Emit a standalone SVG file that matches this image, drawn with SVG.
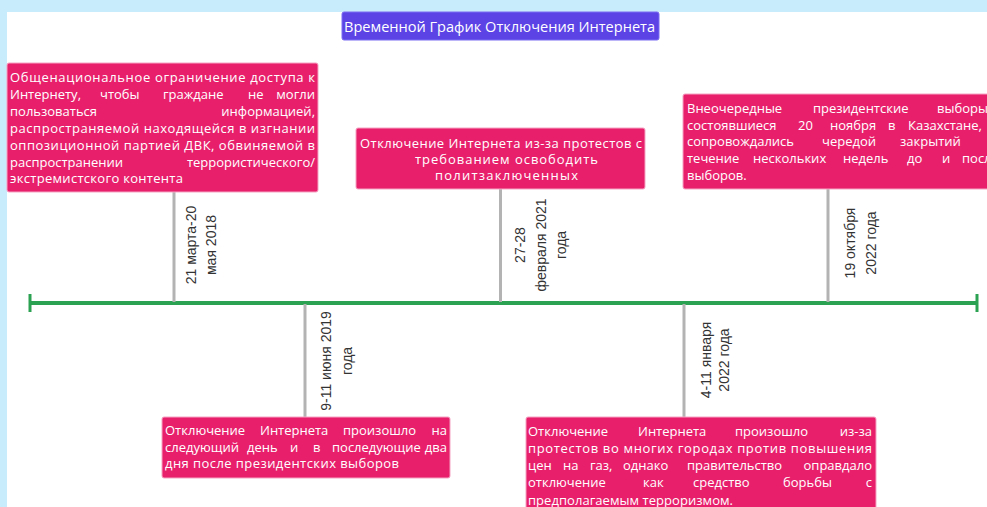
<svg xmlns="http://www.w3.org/2000/svg" width="987" height="507" viewBox="0 0 987 507">
<defs>
<style>
.bg{fill:#c9ecfc}
.panel{fill:#ffffff}
.box{fill:#e8206c;stroke:#f5a3c3;stroke-width:1}
.title{fill:#5b43e6;stroke:#7b6cf0;stroke-width:1}
.t{font-family:"Open Sans","Noto Sans",sans-serif;font-size:13px;fill:#ffffff}
.tt{font-family:"Open Sans","Noto Sans",sans-serif;font-size:15px;fill:#ffffff}
.d{font-family:"Liberation Sans",Arial,sans-serif;font-size:14px;fill:#333333;text-anchor:middle}
.c{stroke:#b3b3b3;stroke-width:3;fill:none}
.tl{stroke:#2ba152;stroke-width:4;fill:none}
.cap{stroke:#2ba152;stroke-width:3;fill:none}
.e{text-anchor:end}
</style>
</defs>
<rect class="bg" x="0" y="0" width="987" height="507"/>
<rect class="panel" x="7" y="12" width="980" height="495"/>

<g id="connectors">
<line class="tl" x1="30" y1="303" x2="977" y2="303"/>
<line class="cap" x1="30" y1="294" x2="30" y2="312"/>
<line class="cap" x1="977" y1="294" x2="977" y2="312"/>
<line class="c" x1="174" y1="192" x2="174" y2="302"/>
<line class="c" x1="500.5" y1="189" x2="500.5" y2="302"/>
<line class="c" x1="828" y1="189" x2="828" y2="302"/>
<line class="c" x1="305" y1="304" x2="305" y2="417"/>
<line class="c" x1="684" y1="304" x2="684" y2="417"/>
<text class="d" transform="translate(196,245) rotate(-90)">21 марта-20</text>
<text class="d" transform="translate(216,245) rotate(-90)">мая 2018</text>
<text class="d" transform="translate(525,245) rotate(-90)">27-28</text>
<text class="d" transform="translate(546,245) rotate(-90)">февраля 2021</text>
<text class="d" transform="translate(566,245) rotate(-90)">года</text>
<text class="d" transform="translate(855,243) rotate(-90)">19 октября</text>
<text class="d" transform="translate(876,243) rotate(-90)">2022 года</text>
<text class="d" transform="translate(331,361) rotate(-90)">9-11 июня 2019</text>
<text class="d" transform="translate(352,361) rotate(-90)">года</text>
<text class="d" transform="translate(711,360) rotate(-90)">4-11 января</text>
<text class="d" transform="translate(729,360) rotate(-90)">2022 года</text>
</g>

<g id="title">
<rect class="title" x="342" y="12" width="317" height="28" rx="2"/>
<text class="tt" x="344" y="31.5" textLength="311" lengthAdjust="spacingAndGlyphs">Временной График Отключения Интернета</text>
</g>

<g id="event-2018">
<rect class="box" x="7" y="63" width="311" height="129" rx="2"/>
<text class="t" x="10" y="82" textLength="305" lengthAdjust="spacing">Общенациональное ограничение доступа к</text>
<text class="t" y="98.9"><tspan x="10">Интернету,</tspan> <tspan x="100">чтобы</tspan> <tspan x="163">граждане</tspan> <tspan x="248">не</tspan></text>
<text class="t e" x="315" y="98.9">могли</text>
<text class="t" x="10" y="115.8">пользоваться</text>
<text class="t e" x="315" y="115.8">информацией,</text>
<text class="t" x="10" y="132.7" textLength="305" lengthAdjust="spacing">распространяемой находящейся в изгнании</text>
<text class="t" x="10" y="149.6" textLength="305" lengthAdjust="spacing">оппозиционной партией ДВК, обвиняемой в</text>
<text class="t" x="10" y="166.5">распространении</text>
<text class="t e" x="315" y="166.5">террористического/</text>
<text class="t" x="10" y="183.4" textLength="173" lengthAdjust="spacing">экстремистского контента</text>
</g>

<g id="event-2021">
<rect class="box" x="356" y="128" width="289" height="61" rx="2"/>
<text class="t" x="360" y="147.8" textLength="282" lengthAdjust="spacing">Отключение Интернета из-за протестов с</text>
<text class="t" x="415" y="164" textLength="183" lengthAdjust="spacing">требованием освободить</text>
<text class="t" x="435" y="180.2" textLength="143" lengthAdjust="spacing">политзаключенных</text>
</g>

<g id="event-2022-oct">
<rect class="box" x="683" y="94" width="320" height="95" rx="2"/>
<text class="t" y="112.8"><tspan x="687">Внеочередные</tspan> <tspan x="813">президентские</tspan> <tspan x="937">выборы,</tspan></text>
<text class="t" y="129.5"><tspan x="687">состоявшиеся</tspan> <tspan x="798">20</tspan> <tspan x="830">ноября</tspan> <tspan x="888">в</tspan> <tspan x="908">Казахстане,</tspan></text>
<text class="t" y="146.2"><tspan x="687">сопровождались</tspan> <tspan x="822">чередой</tspan> <tspan x="900">закрытий</tspan> <tspan x="993">в</tspan></text>
<text class="t" y="162.8"><tspan x="687">течение</tspan> <tspan x="753">нескольких</tspan> <tspan x="843">недель</tspan> <tspan x="907">до</tspan> <tspan x="942">и</tspan> <tspan x="962">после</tspan></text>
<text class="t" x="687" y="179.5">выборов.</text>
</g>

<g id="event-2019">
<rect class="box" x="162" y="417" width="288" height="61" rx="2"/>
<text class="t" y="435"><tspan x="165">Отключение</tspan> <tspan x="260">Интернета</tspan> <tspan x="343">произошло</tspan></text>
<text class="t e" x="447" y="435">на</text>
<text class="t" y="451.5"><tspan x="165">следующий</tspan> <tspan x="247">день</tspan> <tspan x="290">и</tspan> <tspan x="313">в</tspan> <tspan x="332">последующие</tspan></text>
<text class="t e" x="447" y="451.5">два</text>
<text class="t" x="165" y="468" textLength="234" lengthAdjust="spacing">дня после президентских выборов</text>
</g>

<g id="event-2022-jan">
<rect class="box" x="526" y="417" width="350" height="100" rx="2"/>
<text class="t" y="436"><tspan x="528">Отключение</tspan> <tspan x="638">Интернета</tspan> <tspan x="735">произошло</tspan></text>
<text class="t e" x="872" y="436">из-за</text>
<text class="t" x="528" y="453" textLength="344" lengthAdjust="spacing">протестов во многих городах против повышения</text>
<text class="t" y="469.5"><tspan x="528">цен</tspan> <tspan x="563">на</tspan> <tspan x="590">газ,</tspan> <tspan x="623">однако</tspan> <tspan x="687">правительство</tspan></text>
<text class="t e" x="872" y="469.5">оправдало</text>
<text class="t" y="487"><tspan x="528">отключение</tspan> <tspan x="643">как</tspan> <tspan x="693">средство</tspan> <tspan x="783">борьбы</tspan></text>
<text class="t e" x="872" y="487">с</text>
<text class="t" x="528" y="504.5" textLength="205" lengthAdjust="spacing">предполагаемым терроризмом.</text>
</g>
</svg>
